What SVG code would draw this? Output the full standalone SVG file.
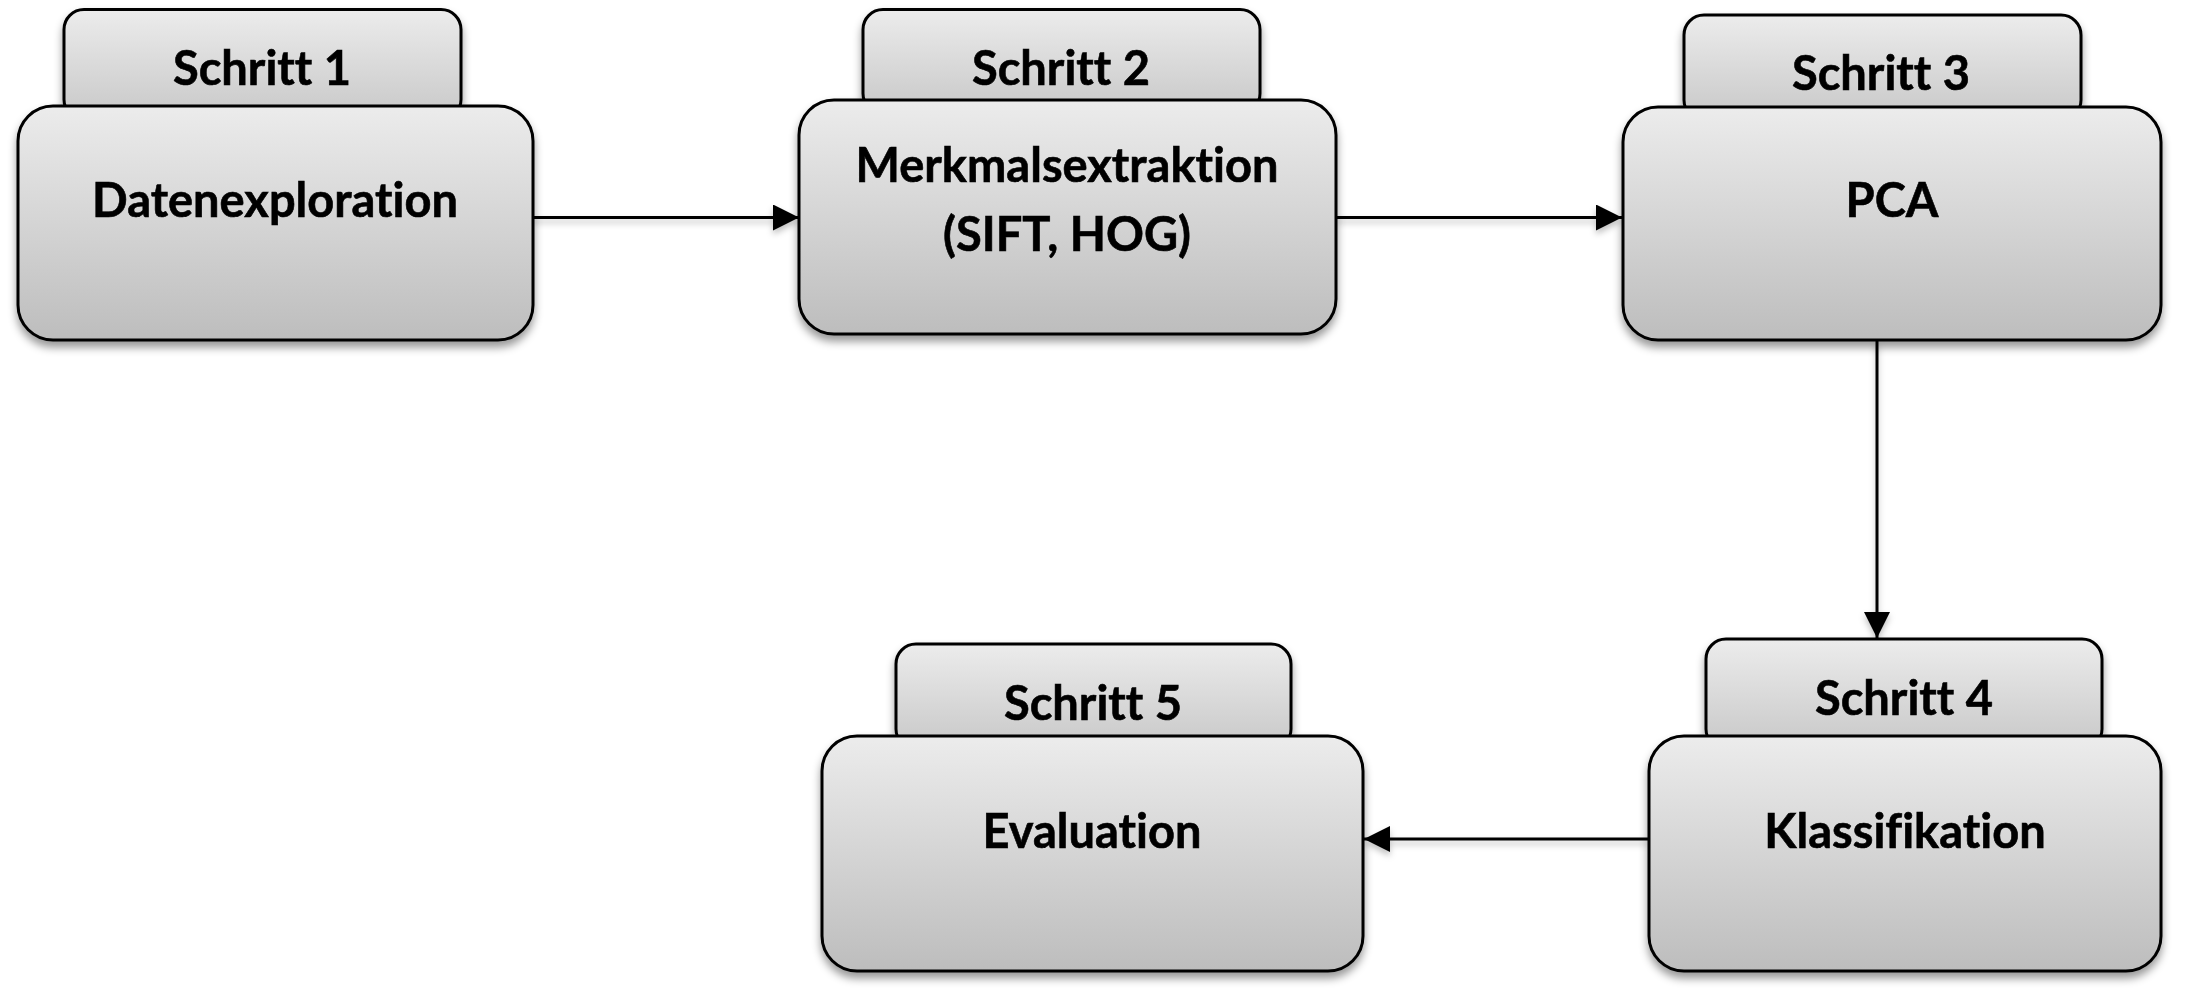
<svg xmlns="http://www.w3.org/2000/svg" width="2186" height="999" viewBox="0 0 2186 999">
  <defs>
    <linearGradient id="gMain" x1="0" y1="0" x2="0" y2="1">
      <stop offset="0" stop-color="#ececec"/>
      <stop offset="1" stop-color="#bdbdbd"/>
    </linearGradient>
    <linearGradient id="gTab" x1="0" y1="0" x2="0" y2="1">
      <stop offset="0" stop-color="#ececec"/>
      <stop offset="1" stop-color="#c8c8c8"/>
    </linearGradient>
    <filter id="shadow" x="-10%" y="-10%" width="120%" height="130%">
      <feDropShadow dx="0" dy="6" stdDeviation="4" flood-color="#000" flood-opacity="0.4"/>
    </filter>
    <filter id="lshadow" x="-10%" y="-200%" width="120%" height="500%">
      <feDropShadow dx="0" dy="4" stdDeviation="3" flood-color="#000" flood-opacity="0.25"/>
    </filter>
    <marker id="arrow" markerUnits="userSpaceOnUse" markerWidth="26" markerHeight="26" viewBox="0 0 26 26" refX="26" refY="13" orient="auto">
      <path d="M0,0 L26,13 L0,26 Z" fill="#000"/>
    </marker>
  </defs>
  <style>
    .tab { fill: url(#gTab); stroke: #000; stroke-width: 3; }
    .main { fill: url(#gMain); stroke: #000; stroke-width: 3; }
    .node { filter: url(#shadow); }
    .t { font-family: Lato, "Liberation Sans", sans-serif; font-weight: bold; font-size: 47px; fill: #000; text-anchor: middle; font-variant-ligatures: none; stroke: #000; stroke-width: 0.6; }
    .conn { stroke: #000; stroke-width: 3; fill: none; marker-end: url(#arrow); }
  </style>
  <rect width="2186" height="999" fill="#fff"/>

  <g id="connectors" filter="url(#lshadow)">
    <line class="conn" x1="533" y1="217.5" x2="799" y2="217.5"/>
    <line class="conn" x1="1337" y1="217.5" x2="1622" y2="217.5"/>
    <line class="conn" x1="1877" y1="341" x2="1877" y2="638"/>
    <line class="conn" x1="1648" y1="839" x2="1364" y2="839"/>
  </g>

  <g id="node1" class="node">
    <rect class="tab" x="64" y="9.5" width="397" height="110" rx="20" ry="20"/>
    <rect class="main" x="18" y="106" width="515" height="234" rx="35" ry="35"/>
    <text class="t" x="262" y="85">Schritt 1</text>
    <text class="t" x="275" y="217">Datenexploration</text>
  </g>

  <g id="node2" class="node">
    <rect class="tab" x="863" y="9.5" width="397" height="104" rx="20" ry="20"/>
    <rect class="main" x="799" y="100" width="537" height="234" rx="35" ry="35"/>
    <text class="t" x="1061" y="85">Schritt 2</text>
    <text class="t" x="1067" y="182">Merkmalsextraktion</text>
    <text class="t" x="1067" y="251">(SIFT, HOG)</text>
  </g>

  <g id="node3" class="node">
    <rect class="tab" x="1684" y="15" width="397" height="105" rx="20" ry="20"/>
    <rect class="main" x="1623" y="107" width="538" height="233" rx="35" ry="35"/>
    <text class="t" x="1881" y="90">Schritt 3</text>
    <text class="t" x="1892" y="217">PCA</text>
  </g>

  <g id="node4" class="node">
    <rect class="tab" x="1706" y="639" width="396" height="110" rx="20" ry="20"/>
    <rect class="main" x="1649" y="736" width="512" height="235" rx="35" ry="35"/>
    <text class="t" x="1904" y="715">Schritt 4</text>
    <text class="t" x="1905" y="848">Klassifikation</text>
  </g>

  <g id="node5" class="node">
    <rect class="tab" x="896" y="644" width="395" height="105" rx="20" ry="20"/>
    <rect class="main" x="822" y="736" width="541" height="235" rx="35" ry="35"/>
    <text class="t" x="1093" y="720">Schritt 5</text>
    <text class="t" x="1092" y="848">Evaluation</text>
  </g>
</svg>
